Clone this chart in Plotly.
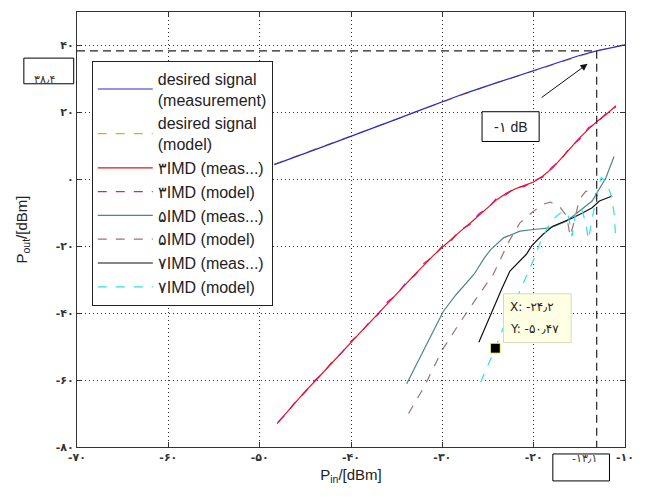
import plotly.graph_objects as go

# ---------------- data ----------------
x_desired = [-48.4, -46, -44, -42, -40, -37.5, -35, -32.5, -30, -27.5, -25, -22.5, -20, -18.5, -17, -15, -13.1, -11.5, -10]
y_desired_meas = [4.4, 6.9, 8.8, 10.8, 12.8, 15.4, 18.0, 20.6, 23.2, 25.7, 28.0, 30.3, 32.4, 33.8, 35.2, 37.0, 38.4, 39.4, 40.2]
y_desired_model = [4.5, 6.9, 8.9, 10.8, 12.9, 15.4, 18.0, 20.6, 23.1, 25.6, 28.0, 30.2, 32.4, 33.8, 35.1, 36.9, 38.4, 39.4, 40.2]

x_im3_meas = [-48.1, -47, -46, -45, -44, -43, -42, -41, -40, -39, -38, -37, -36, -35, -34, -33, -32, -31, -30, -29, -28, -27, -26, -25, -24, -23, -22, -21, -20, -19, -18, -17, -16, -15, -14, -13, -12, -11]
y_im3_meas = [-73, -69.5, -66.5, -63.3, -60.5, -57.5, -54.5, -51.5, -48.7, -45.8, -43, -40, -37, -34.2, -31.3, -28.4, -25.5, -22.8, -20.3, -17.8, -15.5, -13.2, -10.8, -8.3, -6, -4.2, -2.8, -1.8, -0.8, 1, 3.2, 6.2, 9.3, 12.3, 15, 17.4, 19.5, 22]
x_im3_model = [-48.0, -47, -46, -45, -44, -43, -42, -41, -40, -39, -38, -37, -36, -35, -34, -33, -32, -31, -30, -29, -28, -27, -26, -25, -24, -23, -22, -21, -20, -19, -18, -17, -16, -15, -14, -13, -12, -11]
y_im3_model = [-72.6, -69.8, -66.2, -63.6, -60.2, -57.8, -54.2, -51.8, -48.4, -46.1, -42.7, -40.3, -36.6, -34.5, -30.9, -28.7, -25.1, -23.1, -19.9, -18.2, -15.0, -13.6, -10.3, -8.6, -5.5, -4.6, -2.3, -2.2, -0.4, 0.6, 3.6, 5.8, 9.7, 11.9, 15.4, 17.0, 19.9, 21.6]

x_im5_meas = [-33.9, -32.5, -31, -29.9, -28.5, -27.5, -26.5, -25.4, -24.7, -23.3, -21.5, -20, -18.2, -16.4, -15, -13.6, -12.1, -11.2]
y_im5_meas = [-61.1, -53.5, -45.5, -39.5, -34.5, -31.5, -28.3, -23.5, -21.0, -17.5, -15.5, -15.0, -14.5, -12.5, -9.5, -6.5, 0.4, 6.8]
x_im5_model = [-33.7, -32, -30, -28, -26, -24.4, -22.7, -21.5, -20, -19, -18.2, -17.2, -16.4, -16, -15.5, -15, -14.3, -13.6, -13]
y_im5_model = [-70, -62, -51, -42.5, -34.5, -28.3, -18.5, -13, -9.5, -7.5, -6.8, -8, -11, -17, -12, -6, -3.6, -3.3, -5]

x_im7_meas = [-26, -25.2, -24.4, -23.5, -22.6, -21.6, -20.8, -20.2, -19, -17.9, -16.8, -15.7, -14.6, -13.6, -12.8, -11.4]
y_im7_meas = [-48.7, -43.5, -38.3, -32.8, -27.4, -24.5, -22.4, -19.8, -16.5, -14, -12.8, -11.5, -10, -8.5, -6.5, -5]
x_im7_model = [-25.8, -24.2, -23, -21.5, -20, -19.3, -18.5, -17.5, -16.8, -16.2, -15.8, -15.4, -14.8, -14.3, -14, -13.5, -13, -12.6, -12, -11.5, -11.2, -11]
y_im7_model = [-60.6, -50.5, -42, -33.3, -24, -19, -14.5, -11, -9.5, -11, -17, -10, -8.5, -13, -18, -10, -3, 0.5, -1, -5, -10, -18]

x_ticks = [-70, -60, -50, -40, -30, -20, -10]
x_ticktext = ["-۷۰", "-۶۰", "-۵۰", "-۴۰", "-۳۰", "-۲۰", "-۱۰"]
y_ticks = [-80, -60, -40, -20, 0, 20, 40]
y_ticktext = ["-۸۰", "-۶۰", "-۴۰", "-۲۰", "۰", "۲۰", "۴۰"]

p1db_in = -13.1
p1db_out = 38.4
tip_x = -24.2
tip_y = -50.47

# ---------------- figure ----------------
fig = go.Figure()
lw = 1.2
# model of desired signal drawn first so that the measurement sits on top
fig.add_trace(go.Scatter(x=x_desired, y=y_desired_model, mode="lines",
                         name="desired signal<br>(model)", legendrank=2,
                         line=dict(color="#e8a818", width=lw, dash="dash")))
fig.add_trace(go.Scatter(x=x_desired, y=y_desired_meas, mode="lines",
                         name="desired signal<br>(measurement)", legendrank=1,
                         line=dict(color="#2a2ad0", width=lw)))
fig.add_trace(go.Scatter(x=x_im3_model, y=y_im3_model, mode="lines",
                         name="۳IMD (model)", legendrank=4,
                         line=dict(color="#c020c8", width=lw, dash="dash")))
fig.add_trace(go.Scatter(x=x_im3_meas, y=y_im3_meas, mode="lines",
                         name="۳IMD (meas...)", legendrank=3,
                         line=dict(color="#e81020", width=lw)))
fig.add_trace(go.Scatter(x=x_im5_meas, y=y_im5_meas, mode="lines",
                         name="۵IMD (meas...)", legendrank=5,
                         line=dict(color="#4e8684", width=lw)))
fig.add_trace(go.Scatter(x=x_im5_model, y=y_im5_model, mode="lines",
                         name="۵IMD (model)", legendrank=6,
                         line=dict(color="#a07078", width=lw, dash="dash")))
fig.add_trace(go.Scatter(x=x_im7_meas, y=y_im7_meas, mode="lines",
                         name="۷IMD (meas...)", legendrank=7,
                         line=dict(color="#111111", width=lw)))
fig.add_trace(go.Scatter(x=x_im7_model, y=y_im7_model, mode="lines",
                         name="۷IMD (model)", legendrank=8,
                         line=dict(color="#30e0e0", width=lw, dash="dash")))

# data-tip marker
fig.add_trace(go.Scatter(x=[tip_x], y=[tip_y], mode="markers", showlegend=False,
                         marker=dict(symbol="square", size=10, color="black",
                                     line=dict(color="#ffff80", width=1))))

# 1 dB compression guide lines
fig.add_trace(go.Scatter(x=[-70, p1db_in], y=[p1db_out, p1db_out], mode="lines",
                         showlegend=False, line=dict(color="#222222", width=1.2, dash="8px,5px")))
fig.add_trace(go.Scatter(x=[p1db_in, p1db_in], y=[p1db_out, -80], mode="lines",
                         showlegend=False, line=dict(color="#222222", width=1.2, dash="8px,5px")))

shapes = []
annotations = []

# "-1 dB" box
shapes.append(dict(type="rect", xref="x", yref="y", x0=-25.65, x1=-19.4, y0=11.3, y1=20.2,
                   line=dict(color="black", width=1), fillcolor="white"))
annotations.append(dict(x=-22.5, y=15.75, xref="x", yref="y", text="-۱ dB", showarrow=False,
                        font=dict(size=14, color="#222", family="Arial")))
# arrow
annotations.append(dict(x=-14.1, y=34.5, ax=-19.3, ay=24.1, xref="x", yref="y", axref="x", ayref="y",
                        text="", showarrow=True, arrowhead=2, arrowsize=1.4, arrowwidth=1, arrowcolor="#111"))

# 38.4 box on left
shapes.append(dict(type="rect", xref="paper", yref="paper", x0=-0.097, x1=-0.006, y0=0.835, y1=0.894,
                   line=dict(color="black", width=1), fillcolor="white"))
annotations.append(dict(x=-0.0515, y=0.8645, xref="paper", yref="paper", text="۳۸٫۴", showarrow=False,
                        xanchor="center", xshift=-4,
                        font=dict(size=11, color="#333", family="DejaVu Sans")))

# -13.1 box below axis
shapes.append(dict(type="rect", xref="x", yref="paper", x0=-17.9, x1=-11.7, y0=-0.078, y1=-0.016,
                   line=dict(color="black", width=1), fillcolor="white"))
annotations.append(dict(x=-14.8, y=-0.047, xref="x", yref="paper", text="-۱۳٫۱", showarrow=False,
                        xshift=3, font=dict(size=11, color="#333", family="DejaVu Sans")))

# data tip box
shapes.append(dict(type="rect", xref="x", yref="y", x0=-23.3, x1=-15.9, y0=-48.8, y1=-34.2,
                   line=dict(color="#d8d8c0", width=1), fillcolor="#ffffe4", layer="above"))
annotations.append(dict(x=-22.8, y=-38.3, xref="x", yref="y", xanchor="left",
                        text="X: -۲۴٫۲", showarrow=False, font=dict(size=12, color="#222", family="DejaVu Sans")))
annotations.append(dict(x=-22.8, y=-44.6, xref="x", yref="y", xanchor="left",
                        text="Y: -۵۰٫۴۷", showarrow=False, font=dict(size=12, color="#222", family="DejaVu Sans")))

axis_common = dict(showline=True, linecolor="#333", linewidth=1, mirror="ticks",
                   ticks="inside", ticklen=5, tickcolor="#333",
                   showgrid=True, gridcolor="#333", gridwidth=1, griddash="1px,3px",
                   zeroline=False, tickfont=dict(size=11, color="#333", family="DejaVu Sans", weight="bold"))

fig.update_layout(
    width=645, height=497,
    margin=dict(l=77, r=12, t=11, b=50),
    paper_bgcolor="white", plot_bgcolor="white",
    font=dict(family="Arial, Liberation Sans, DejaVu Sans", color="#222"),
    xaxis=dict(range=[-70, -10], tickvals=x_ticks, ticktext=x_ticktext,
               title=dict(text="P<sub>in</sub>/[dBm]", font=dict(size=15), standoff=6), **axis_common),
    yaxis=dict(range=[-80, 50], tickvals=y_ticks, ticktext=y_ticktext,
               title=dict(text="P<sub>out</sub>/[dBm]", font=dict(size=15), standoff=24), **axis_common),
    legend=dict(x=0.027, y=0.888, xanchor="left", yanchor="top",
                bgcolor="white", bordercolor="#222", borderwidth=1,
                font=dict(size=16, family="Arial, Liberation Sans"),
                itemwidth=55, tracegroupgap=0),
    shapes=shapes, annotations=annotations,
)

fig.write_html("out.html")
